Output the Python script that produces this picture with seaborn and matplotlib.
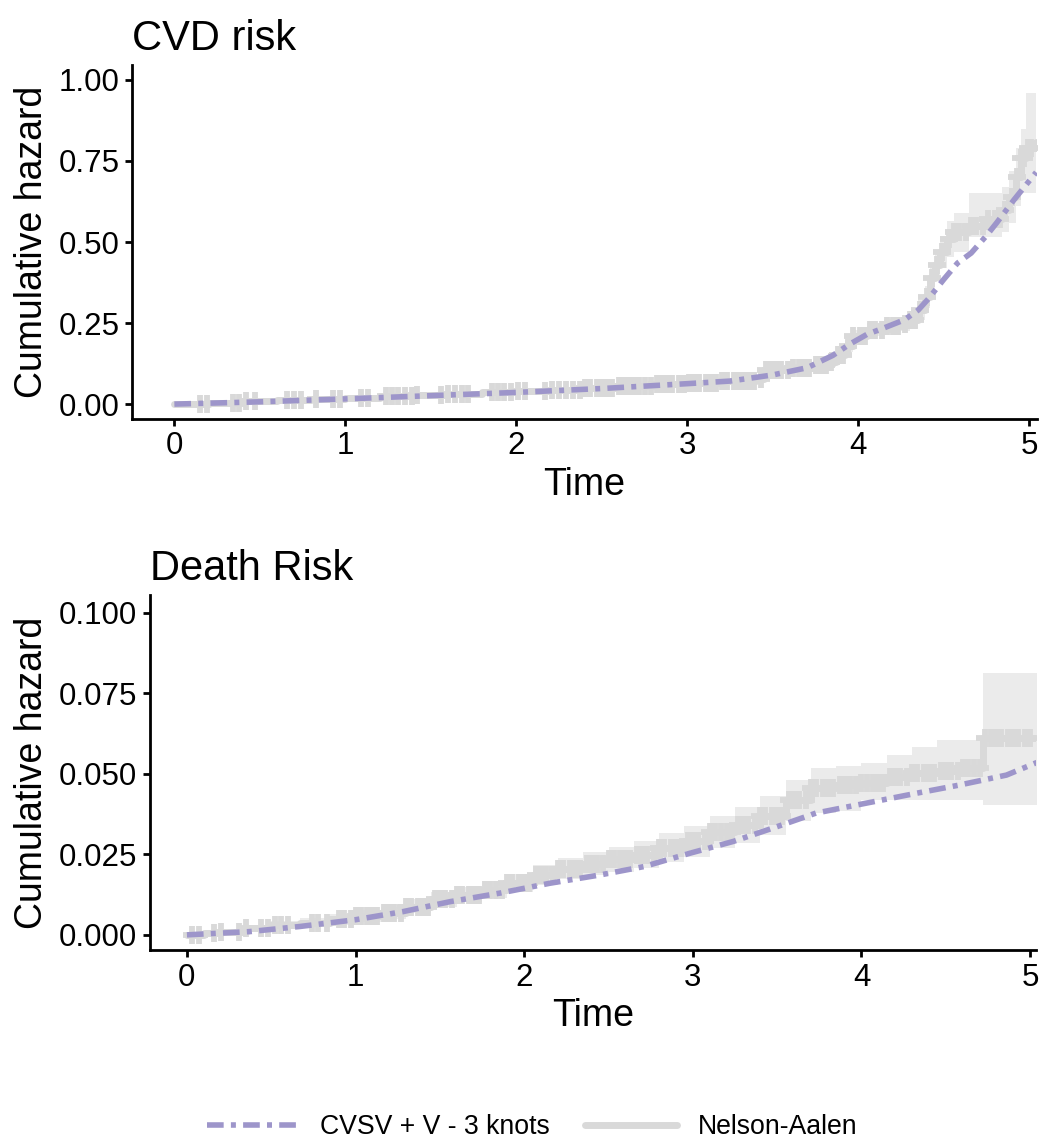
import numpy as np
import matplotlib
matplotlib.use("Agg")
import matplotlib.pyplot as plt
import seaborn as sns
from matplotlib.lines import Line2D

sns.set_theme(style="ticks")
plt.rcParams["font.family"] = ["Liberation Sans", "DejaVu Sans"]
plt.rcParams["text.color"] = "black"
plt.rcParams["axes.labelcolor"] = "black"
plt.rcParams["xtick.color"] = "black"
plt.rcParams["ytick.color"] = "black"

PURPLE = "#9D95CA"
NA_GREY = "#D9D9D9"
CI_GREY = "#EBEBEB"

# ---- CVD risk: Nelson-Aalen (step, post) ----
cvd_na_time = [0, 0.2, 0.4, 0.6, 0.8, 1.0, 1.2, 1.4, 1.6, 1.8, 2.0, 2.2, 2.4, 2.6,
               2.8, 3.0, 3.2, 3.4, 3.45, 3.6, 3.75, 3.82, 3.87, 3.92, 3.97, 4.05,
               4.15, 4.25, 4.3, 4.35, 4.39, 4.42, 4.45, 4.48, 4.52, 4.56, 4.65,
               4.75, 4.84, 4.88, 4.92, 4.95, 4.98, 5.04]
cvd_na_haz = [0, 0.004, 0.008, 0.012, 0.016, 0.02, 0.024, 0.028, 0.032, 0.036,
              0.04, 0.044, 0.049, 0.055, 0.061, 0.066, 0.072, 0.078, 0.105, 0.112,
              0.12, 0.13, 0.15, 0.18, 0.21, 0.23, 0.24, 0.248, 0.26, 0.29, 0.33,
              0.39, 0.43, 0.47, 0.51, 0.53, 0.55, 0.57, 0.60, 0.64, 0.70, 0.76,
              0.79, 0.81]
cvd_na_lower = [0, 0.001, 0.004, 0.007, 0.011, 0.014, 0.018, 0.021, 0.025, 0.028,
                0.032, 0.035, 0.039, 0.045, 0.05, 0.057, 0.063, 0.068, 0.093,
                0.1, 0.108, 0.115, 0.134, 0.162, 0.19, 0.21, 0.218, 0.226, 0.236,
                0.258, 0.295, 0.35, 0.385, 0.42, 0.455, 0.47, 0.515, 0.515, 0.53,
                0.56, 0.61, 0.65, 0.65, 0.65]
cvd_na_upper = [0, 0.007, 0.012, 0.017, 0.021, 0.026, 0.03, 0.035, 0.039, 0.044,
                0.048, 0.053, 0.059, 0.065, 0.072, 0.075, 0.081, 0.088, 0.117,
                0.124, 0.132, 0.145, 0.166, 0.198, 0.23, 0.25, 0.262, 0.27, 0.284,
                0.322, 0.365, 0.43, 0.475, 0.52, 0.565, 0.59, 0.65, 0.65, 0.67,
                0.72, 0.79, 0.85, 0.96, 0.96]
cvd_censor = [0.15, 0.19, 0.34, 0.38, 0.42, 0.47, 0.66, 0.7, 0.74, 0.83, 0.93, 0.97,
              1.09, 1.13, 1.24, 1.27, 1.31, 1.35, 1.39, 1.42, 1.56, 1.6, 1.64, 1.68,
              1.72, 1.86, 1.89, 1.93, 1.97, 2.01, 2.05, 2.17, 2.21, 2.25, 2.29, 2.33,
              2.37, 2.4, 2.43, 2.47, 2.5, 2.53, 2.56, 2.6, 2.63, 2.66, 2.69, 2.72,
              2.75, 2.79, 2.82, 2.85, 2.88, 2.91, 2.95, 2.98, 3.01, 3.04, 3.07,
              3.11, 3.14, 3.17, 3.2, 3.23, 3.27, 3.3, 3.33, 3.36, 3.39, 3.43, 3.46,
              3.49, 3.52, 3.55, 3.59, 3.62, 3.65, 3.68, 3.71, 3.75, 3.78, 3.81,
              3.84, 3.88, 3.91, 3.94, 3.97, 4.01, 4.04, 4.07, 4.1, 4.14, 4.17, 4.2,
              4.23, 4.27, 4.3, 4.33, 4.36, 4.4, 4.43, 4.46, 4.49, 4.53, 4.56, 4.59,
              4.63, 4.66, 4.69, 4.73, 4.76, 4.8, 4.83, 4.86, 4.9, 4.93, 4.95, 4.97,
              4.99, 5.01]

# ---- CVD risk: spline model (CVSV + V - 3 knots) ----
cvd_fit_time = [0, 0.5, 1.0, 1.5, 2.0, 2.5, 3.0, 3.25, 3.5, 3.7, 3.85, 3.95, 4.05,
                4.15, 4.27, 4.35, 4.41, 4.5, 4.58, 4.66, 4.75, 4.81, 4.91, 5.04]
cvd_fit_haz = [0, 0.007, 0.016, 0.026, 0.036, 0.048, 0.063, 0.071, 0.09, 0.112,
               0.15, 0.185, 0.215, 0.235, 0.26, 0.29, 0.325, 0.385, 0.435, 0.466,
               0.52, 0.56, 0.63, 0.715]

# ---- Death risk: Nelson-Aalen (step, post) ----
death_na_time = [0, 0.1, 0.2, 0.35, 0.5, 0.67, 0.85, 1.0, 1.15, 1.3, 1.45, 1.6,
                 1.75, 1.9, 2.05, 2.2, 2.35, 2.5, 2.65, 2.8, 2.95, 3.1, 3.25, 3.4,
                 3.55, 3.7, 3.85, 4.0, 4.15, 4.3, 4.45, 4.6, 4.72, 5.04]
death_na_haz = [0, 0.0005, 0.001, 0.002, 0.003, 0.0037, 0.0048, 0.0058, 0.0068,
                0.0088, 0.011, 0.0125, 0.014, 0.016, 0.0185, 0.0205, 0.022, 0.0235,
                0.0248, 0.027, 0.029, 0.032, 0.034, 0.037, 0.042, 0.0455, 0.0465,
                0.0471, 0.049, 0.0502, 0.051, 0.0517, 0.0611, 0.0611]
death_na_lower = [0, 0.0, 0.0003, 0.001, 0.0017, 0.0023, 0.0032, 0.0041, 0.005,
                  0.0068, 0.0088, 0.0102, 0.0115, 0.0133, 0.0155, 0.0172, 0.0185,
                  0.0196, 0.0208, 0.0226, 0.0243, 0.027, 0.0285, 0.031, 0.0352,
                  0.0378, 0.0385, 0.0419, 0.0419, 0.0419, 0.0419, 0.0419, 0.0403,
                  0.0403]
death_na_upper = [0, 0.001, 0.0018, 0.003, 0.0043, 0.0052, 0.0065, 0.0076, 0.0088,
                  0.011, 0.0133, 0.015, 0.0166, 0.0188, 0.0216, 0.0238, 0.0256,
                  0.0274, 0.029, 0.0316, 0.0338, 0.037, 0.0396, 0.043, 0.048,
                  0.0517, 0.0525, 0.0533, 0.0558, 0.0584, 0.0605, 0.0605, 0.0812,
                  0.0812]
death_censor = [0.03, 0.07, 0.16, 0.2, 0.31, 0.35, 0.44, 0.48, 0.52, 0.56, 0.6, 0.74,
                0.78, 0.83, 0.9, 0.93, 0.97, 1.0, 1.03, 1.07, 1.1, 1.13, 1.17, 1.2,
                1.23, 1.27, 1.3, 1.33, 1.37, 1.4, 1.43, 1.47, 1.5, 1.53, 1.57, 1.6,
                1.63, 1.67, 1.7, 1.73, 1.77, 1.8, 1.83, 1.87, 1.9, 1.93, 1.97, 2.0,
                2.03, 2.07, 2.1, 2.13, 2.17, 2.2, 2.23, 2.27, 2.3, 2.33, 2.37, 2.4,
                2.43, 2.47, 2.5, 2.53, 2.57, 2.6, 2.63, 2.67, 2.7, 2.73, 2.77, 2.8,
                2.83, 2.87, 2.9, 2.93, 2.97, 3.0, 3.03, 3.07, 3.1, 3.13, 3.17, 3.2,
                3.23, 3.27, 3.3, 3.33, 3.37, 3.4, 3.43, 3.47, 3.5, 3.53, 3.57, 3.6,
                3.63, 3.67, 3.7, 3.73, 3.77, 3.8, 3.83, 3.87, 3.9, 3.93, 3.97, 4.0,
                4.03, 4.07, 4.1, 4.13, 4.17, 4.2, 4.23, 4.27, 4.3, 4.33, 4.37, 4.4,
                4.43, 4.47, 4.5, 4.53, 4.57, 4.6, 4.63, 4.67, 4.7, 4.73, 4.77, 4.8,
                4.83, 4.87, 4.9, 4.93, 4.97, 5.0]

# ---- Death risk: spline model ----
death_fit_time = [0, 0.37, 0.67, 1.0, 1.28, 1.56, 1.86, 2.15, 2.45, 2.71, 2.98,
                  3.24, 3.5, 3.73, 4.03, 4.33, 4.58, 4.86, 5.04]
death_fit_haz = [0, 0.001, 0.0026, 0.0047, 0.0072, 0.0103, 0.013, 0.016, 0.0186,
                 0.0212, 0.0253, 0.029, 0.0336, 0.0378, 0.0409, 0.044, 0.0465,
                 0.0496, 0.0535]

x_ticks = [0, 1, 2, 3, 4, 5]
cvd_yticks = [0.0, 0.25, 0.5, 0.75, 1.0]
cvd_ylabels = ["0.00", "0.25", "0.50", "0.75", "1.00"]
death_yticks = [0.0, 0.025, 0.05, 0.075, 0.1]
death_ylabels = ["0.000", "0.025", "0.050", "0.075", "0.100"]

DASH = (0, (3.0, 1.3, 0.9, 1.3))


def draw_panel(ax, title, na_t, na_h, lo, hi, cens, fit_t, fit_h,
               xlim, ylim, yticks, ylabels, ylab_x):
    ax.fill_between(na_t, lo, hi, step="post", color=CI_GREY, lw=0, zorder=1)
    sns.lineplot(x=na_t, y=na_h, ax=ax, color=NA_GREY, lw=5,
                 drawstyle="steps-post", estimator=None, sort=False, zorder=2)
    # censoring marks sit on the step curve
    idx = np.searchsorted(na_t, cens, side="right") - 1
    cy = np.asarray(na_h)[idx]
    ax.plot(cens, cy, ls="none", marker="+", ms=12.5, mew=4.2,
            color=NA_GREY, zorder=2)
    sns.lineplot(x=fit_t, y=fit_h, ax=ax, color=PURPLE, lw=4,
                 linestyle=DASH, estimator=None, sort=False, zorder=3)
    ax.set_xlim(*xlim)
    ax.set_ylim(*ylim)
    ax.set_xticks(x_ticks)
    ax.set_yticks(yticks)
    ax.set_yticklabels(ylabels)
    ax.set_xlabel("Time", fontsize=27, labelpad=4)
    ax.set_ylabel("Cumulative hazard", fontsize=27)
    ax.yaxis.set_label_coords(ylab_x, 0.5)
    ax.set_title(title, loc="left", fontsize=30, pad=11)
    sns.despine(ax=ax)
    for s in ["left", "bottom"]:
        ax.spines[s].set_linewidth(2)
        ax.spines[s].set_color("black")
    ax.tick_params(axis="both", labelsize=22.5, width=2, length=5,
                   color="black", pad=4)
    ax.grid(False)


fig = plt.figure(figsize=(10.42, 11.43), dpi=100)
W, H = 1042, 1143

ax1 = fig.add_axes([132.3 / W, (H - 419) / H, (1036.7 - 132.3) / W, (419 - 65) / H])
draw_panel(ax1, "CVD risk", cvd_na_time, cvd_na_haz, cvd_na_lower, cvd_na_upper,
           cvd_censor, cvd_fit_time, cvd_fit_haz, (-0.246, 5.043), (-0.046, 1.046),
           cvd_yticks, cvd_ylabels, (50 - 132.3) / (1036.7 - 132.3))

ax2 = fig.add_axes([150 / W, (H - 950) / H, (1036 - 150) / W, (950 - 595) / H])
draw_panel(ax2, "Death Risk", death_na_time, death_na_haz, death_na_lower,
           death_na_upper, death_censor, death_fit_time, death_fit_haz,
           (-0.219, 5.035), (-0.0047, 0.1055), death_yticks, death_ylabels,
           (50 - 150) / (1036 - 150))

handles = [Line2D([], [], color=PURPLE, lw=4, linestyle=DASH),
           Line2D([], [], color=NA_GREY, lw=5)]
fig.legend(handles, ["CVSV + V - 3 knots", "Nelson-Aalen"], loc="center",
           bbox_to_anchor=(0.511, (H - 1127) / H), ncol=2, frameon=False,
           fontsize=19.2, handlelength=3.45, handletextpad=0.8, columnspacing=1.3)

fig.savefig("out.png", dpi=100)
